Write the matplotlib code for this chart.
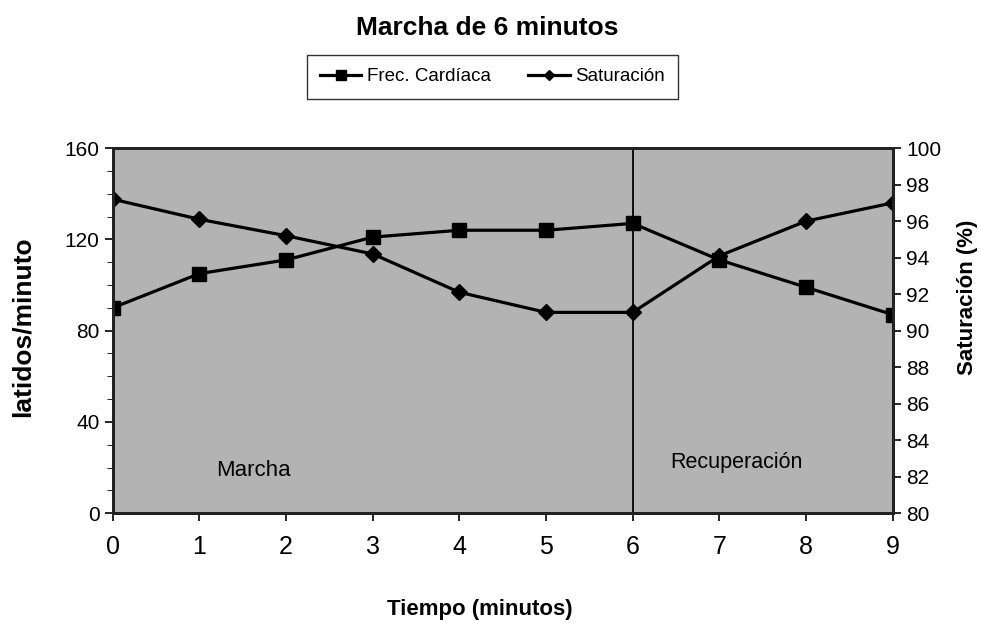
import matplotlib
matplotlib.use("Agg")
import matplotlib.pyplot as plt
from matplotlib.ticker import MultipleLocator

plt.rcParams['font.family'] = ['Liberation Sans Narrow', 'Liberation Sans', 'DejaVu Sans']

# datos
minutos = [0, 1, 2, 3, 4, 5, 6, 7, 8, 9]
frec_cardiaca = [90, 105, 111, 121, 124, 124, 127, 111, 99, 87]
saturacion = [97.2, 96.1, 95.2, 94.2, 92.1, 91.0, 91.0, 94.1, 96.0, 97.0]

fig = plt.figure(figsize=(9.81, 6.25), dpi=100)
ax = fig.add_axes([0.115, 0.179, 0.795, 0.584])
ax.set_facecolor('#b3b3b3')

l1, = ax.plot(minutos, frec_cardiaca, color='black', lw=2.3, marker='s', ms=10,
              label='Frec. Cardíaca')
ax.set_xlim(0, 9)
ax.set_ylim(0, 160)
ax.yaxis.set_major_locator(MultipleLocator(40))
ax.yaxis.set_minor_locator(MultipleLocator(10))
ax.xaxis.set_major_locator(MultipleLocator(1))
ax.tick_params(axis='x', labelsize=18, length=6, width=1.2, pad=10)
ax.tick_params(axis='y', which='major', labelsize=15, length=6, width=1.2)
ax.tick_params(axis='y', which='minor', length=4)
ax.set_ylabel('latidos/minuto', fontsize=19, fontweight='bold')
ax.yaxis.set_label_coords(-0.1, 0.51)
ax.set_xlabel('Tiempo (minutos)', fontsize=16, fontweight='bold')
ax.xaxis.set_label_coords(0.47, -0.235)

ax2 = ax.twinx()
l2, = ax2.plot(minutos, saturacion, color='black', lw=2.3, marker='D', ms=8,
               label='Saturación')
ax2.set_ylim(80, 100)
ax2.yaxis.set_major_locator(MultipleLocator(2))
ax2.tick_params(axis='y', labelsize=15, length=6, width=1.2)
ax2.set_ylabel('Saturación (%)', fontsize=16, fontweight='bold')
ax2.yaxis.set_label_coords(1.083, 0.59)

for a in (ax, ax2):
    for s in a.spines.values():
        s.set_linewidth(2)
        s.set_color('#222222')

ax.axvline(6, color='black', lw=1.3)
ax.text(1.62, 18.8, 'Marcha', fontsize=16, ha='center', va='center')
ax.text(7.2, 22, 'Recuperación', fontsize=15.5, ha='center', va='center')

fig.suptitle('Marcha de 6 minutos', x=0.497, y=0.975, fontsize=19, fontweight='bold')
fig.legend(handles=[l1, l2], loc='center', bbox_to_anchor=(0.502, 0.877),
           ncol=2, fontsize=13.5, frameon=True, fancybox=False, edgecolor='black',
           borderpad=0.7, columnspacing=2.0, handlelength=2.2, handletextpad=0.3,
           markerscale=0.65)

fig.savefig('out.png', dpi=100)
